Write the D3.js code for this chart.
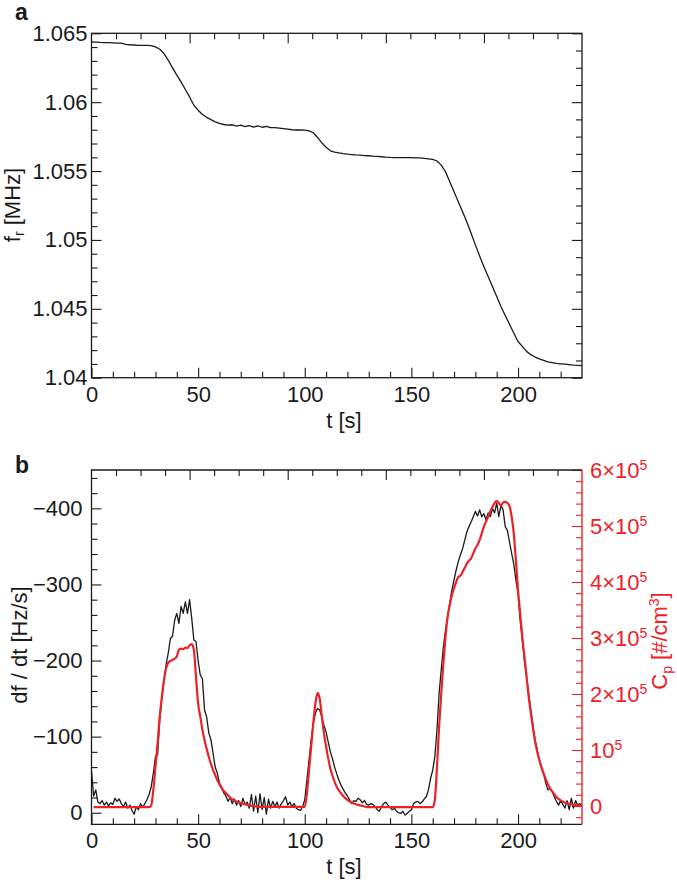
<!DOCTYPE html>
<html><head><meta charset="utf-8">
<script src="https://cdn.jsdelivr.net/npm/d3@7"></script>
<style>
body{margin:0;background:#fff;}
svg text{font-family:"Liberation Sans",Arial,Helvetica,sans-serif;}
</style></head><body>
<svg id="c" width="677" height="884"></svg>
<script>
// ---------- data ----------
// Panel a: resonance frequency (MHz), sampled every 2 s
const timeA = d3.range(0, 231, 2);
const freqA = [
1.06437,1.06436,1.06434,1.06433,1.06432,1.06430,1.06428,1.06429,1.06420,1.06417,
1.06415,1.06413,1.06412,1.06412,1.06410,1.06401,1.06384,1.06353,1.06304,1.06249,
1.06196,1.06147,1.06092,1.06038,1.05978,1.05942,1.05911,1.05890,1.05873,1.05857,
1.05846,1.05838,1.05834,1.05836,1.05826,1.05833,1.05822,1.05830,1.05819,1.05828,
1.05818,1.05824,1.05816,1.05815,1.05812,1.05808,1.05804,1.05800,1.05798,1.05799,
1.05797,1.05792,1.05778,1.05744,1.05705,1.05672,1.05647,1.05638,1.05632,1.05627,
1.05623,1.05620,1.05617,1.05615,1.05612,1.05611,1.05608,1.05606,1.05604,1.05601,
1.05599,1.05598,1.05598,1.05597,1.05597,1.05597,1.05596,1.05595,1.05592,1.05589,
1.05585,1.05573,1.05543,1.05495,1.05422,1.05350,1.05278,1.05205,1.05130,1.05049,
1.04964,1.04883,1.04806,1.04734,1.04662,1.04589,1.04517,1.04452,1.04388,1.04324,
1.04263,1.04227,1.04191,1.04167,1.04150,1.04136,1.04126,1.04115,1.04110,1.04104,
1.04101,1.04098,1.04095,1.04092,1.04090,1.04087];

// Panel b: sampled every 1 s
const timeB = d3.range(0, 231, 1);
const dfdtB = [
-55,-22,-30,-14,-12,-16,-10,-14,-9,-13,
-11,-19,-15,-18,-12,-8,-14,-6,-10,-3,
2,-8,-4,-12,-7,-12,-17,-24,-34,-52,
-74,-76,-122,-150,-174,-195,-210,-229,-232,-253,
-262,-249,-271,-262,-277,-262,-280,-255,-227,-225,
-200,-181,-176,-135,-126,-105,-96,-78,-60,-52,
-39,-34,-26,-22,-15,-20,-12,-18,-10,-16,
-8,-19,-11,-14,-6,-24,-2,-22,0,-25,
-4,-20,2,-18,-6,-15,-8,-14,-6,-12,
-16,-21,-10,-14,-8,-12,-6,-4,-3,-8,
-17,-43,-69,-96,-117,-131,-137,-135,-126,-115,
-106,-93,-80,-71,-60,-51,-43,-36,-31,-26,
-22,-17,-12,-16,-15,-19,-17,-13,-16,-11,
-10,-12,-11,-8,-4,-2,-8,-12,-14,-10,
-7,-4,-6,-2,0,1,-2,3,1,-2,
-4,-12,-14,-15,-12,-14,-18,-21,-30,-45,
-56,-74,-109,-157,-188,-218,-240,-258,-275,-293,
-306,-319,-330,-339,-347,-358,-369,-376,-382,-389,
-396,-390,-398,-389,-393,-385,-394,-389,-400,-394,
-407,-389,-404,-398,-376,-371,-356,-341,-327,-306,
-288,-253,-227,-200,-179,-157,-135,-115,-96,-83,
-69,-60,-52,-39,-30,-32,-28,-21,-15,-10,
-16,-11,-6,-16,-4,-19,-6,-16,-10,-12,
-8];
const cpB = [
null,-2000,-2000,-2000,-2000,-2000,-2000,-2000,-2000,-2000,
-2000,-2000,-2000,-2000,-2000,-2000,-2000,-2000,-2000,-2000,
-2000,-2000,-2000,-2000,-2000,-2000,-2000,-2000,1000,28600,
70000,112000,160000,195000,225000,246000,256000,259000,261000,263000,
267000,279000,281000,280000,283000,282000,287000,289000,279000,231000,
183000,160000,136000,118000,102000,88000,75000,64000,55000,46000,
39000,32000,27000,23000,19000,15000,12000,10000,8000,6500,
5000,4000,3000,2000,1000,500,0,-500,-1500,-1500,
-1500,-1500,-1500,-1500,-1500,-1500,-1500,-1500,-1500,-1500,
-1500,-1500,-1500,-1500,-1500,-1500,-1500,-1500,-1500,-1500,
-1500,22700,64000,106000,148000,183000,202000,192000,160000,130000,
106000,85000,67000,54000,43000,34000,28000,22700,18000,14000,
11000,8000,6000,4500,3000,2000,1000,0,-1000,-2000,
-2000,-2000,-2000,-2000,-2000,-2000,-2000,-2000,-2000,-2000,
-2000,-2000,-2000,-2000,-2000,-2000,-2000,-2000,-2000,-2000,
-2000,-2000,-2000,-2000,-2000,-2000,-2000,-2000,-2000,-2000,
-2000,10700,70000,142000,201000,255000,302000,338000,359000,377000,
389000,400000,409000,411000,418000,425000,433000,438000,442000,451000,
460000,466000,475000,487000,499000,508000,517000,526000,534000,541000,
545000,541000,536000,542000,543000,541000,536000,517000,487000,439000,
386000,344000,302000,267000,231000,195000,166000,139000,115000,97000,
82000,69000,58000,48000,39000,32000,26000,21000,16000,12500,
10000,8000,6000,5000,4000,3000,2000,1500,1000,500,
0];

// ticks and labels
const tTicks = [0, 50, 100, 150, 200];
const tMinor = [10,20,30,40,60,70,80,90,110,120,130,140,160,170,180,190,210,220];
const topMajor = [40, 80, 120, 160];
const topMinor = [10,20,30,50,60,70,90,100,110,130,140,150,170,180,190];
const fTicks = [1.04, 1.045, 1.05, 1.055, 1.06, 1.065];
const fTickLabels = ["1.04", "1.045", "1.05", "1.055", "1.06", "1.065"];
const fMinor = d3.range(1, 25).filter(i => i % 5 !== 0).map(i => 1.04 + i * 0.001);
const fRightMinor = d3.range(1, 20).filter(i => i % 4 !== 0).map(i => 1.04 + i * 0.00125);
const dTicks = [0, -100, -200, -300, -400];
const dTickLabels = ["0", "\u2212100", "\u2212200", "\u2212300", "\u2212400"];
const dMinor = d3.range(1, 23).filter(i => i % 5 !== 0).map(i => -20 * i);
const cTicks = [0, 1e5, 2e5, 3e5, 4e5, 5e5, 6e5];
const cTickLabels = [["0",""], ["10","5"], ["2\u00d710","5"], ["3\u00d710","5"], ["4\u00d710","5"], ["5\u00d710","5"], ["6\u00d710","5"]];
const cMinor = d3.range(-1, 30).filter(i => i % 5 !== 0).map(i => i * 20000);

// ---------- layout ----------
const RED = "#ec2229", INK = "#1a1a1a", FS = 22;
const A = {left: 91.5, right: 582, top: 33.3, bottom: 377.7};
const B = {left: 91.5, right: 582, top: 470, bottom: 824.3};
const svg = d3.select("#c");

const xA = d3.scaleLinear().domain([0, 230]).range([A.left, A.right]);
const xTopA = d3.scaleLinear().domain([0, 200]).range([A.left, A.right]);
const yA = d3.scaleLinear().domain([1.04, 1.065]).range([A.bottom, A.top]);
const xB = d3.scaleLinear().domain([0, 230]).range([B.left, B.right]);
const xTopB = d3.scaleLinear().domain([0, 200]).range([B.left, B.right]);
const yB = d3.scaleLinear().domain([15.2, -450.4]).range([B.bottom, B.top]);
const yR = d3.scaleLinear().domain([-32700, 600000]).range([B.bottom, B.top]);

function ax(gen, tr, vals, size, labels, pad, color) {
  const g = svg.append("g").attr("transform", tr);
  gen.tickValues(vals).tickSize(-size).tickSizeOuter(0).tickPadding(pad)
     .tickFormat(labels ? ((d, i) => labels[i]) : () => "");
  g.call(gen);
  g.select(".domain").remove();
  g.selectAll(".tick line").attr("stroke", color || INK).attr("stroke-width", 1.1);
  g.selectAll("text").attr("font-size", FS).attr("fill", color || INK)
   .attr("font-family", '"Liberation Sans",Arial,Helvetica,sans-serif');
  return g;
}

// ---------- panel a ----------
ax(d3.axisBottom(xA), `translate(0,${A.bottom})`, tTicks, 10, tTicks.map(String), 8.5);
ax(d3.axisBottom(xA), `translate(0,${A.bottom})`, tMinor, 6, null, 9);
ax(d3.axisTop(xTopA), `translate(0,${A.top})`, topMajor, 10, null, 3);
ax(d3.axisTop(xTopA), `translate(0,${A.top})`, topMinor, 6, null, 3);
ax(d3.axisLeft(yA), `translate(${A.left},0)`, fTicks, 10, fTickLabels, 4);
ax(d3.axisLeft(yA), `translate(${A.left},0)`, fMinor, 6, null, 4);
ax(d3.axisRight(yA), `translate(${A.right},0)`, fTicks, 10, null, 3);
ax(d3.axisRight(yA), `translate(${A.right},0)`, fRightMinor, 6, null, 3);

svg.append("rect").attr("x", A.left).attr("y", A.top)
  .attr("width", A.right - A.left).attr("height", A.bottom - A.top)
  .attr("fill", "none").attr("stroke", INK).attr("stroke-width", 1.3);

svg.append("path").datum(timeA.map((t, i) => [t, freqA[i]]))
  .attr("fill", "none").attr("stroke", INK).attr("stroke-width", 1.3)
  .attr("stroke-linejoin", "round")
  .attr("d", d3.line().x(d => xA(d[0])).y(d => yA(d[1])));

svg.append("text").attr("x", 15).attr("y", 20).attr("font-size", 23)
  .attr("font-weight", "bold").attr("fill", INK).text("a");
svg.append("text").attr("x", 344).attr("y", 428).attr("font-size", FS)
  .attr("text-anchor", "middle").attr("fill", INK).text("t [s]");
const la = svg.append("text").attr("transform", "translate(20,205) rotate(-90)")
  .attr("font-size", FS).attr("text-anchor", "middle").attr("fill", INK);
la.append("tspan").text("f");
la.append("tspan").attr("font-size", 14).attr("dy", 4).text("r");
la.append("tspan").attr("dy", -4).text(" [MHz]");

// ---------- panel b ----------
ax(d3.axisBottom(xB), `translate(0,${B.bottom})`, tTicks, 10, tTicks.map(String), 8.5);
ax(d3.axisBottom(xB), `translate(0,${B.bottom})`, tMinor, 6, null, 9);
ax(d3.axisTop(xTopB), `translate(0,${B.top})`, topMajor, 10, null, 3);
ax(d3.axisTop(xTopB), `translate(0,${B.top})`, topMinor, 6, null, 3);
ax(d3.axisLeft(yB), `translate(${B.left},0)`, dTicks, 10, dTickLabels, 9);
ax(d3.axisLeft(yB), `translate(${B.left},0)`, dMinor, 6, null, 9);
ax(d3.axisRight(yR), `translate(${B.right},0)`, cTicks, 10, null, 3, RED);
ax(d3.axisRight(yR), `translate(${B.right},0)`, cMinor, 6, null, 3, RED);

// red tick labels with superscripts
cTicks.forEach((v, i) => {
  const t = svg.append("text").attr("x", 590).attr("y", yR(v)).attr("dy", "0.36em")
    .attr("font-size", FS).attr("fill", RED);
  t.append("tspan").text(cTickLabels[i][0]);
  if (cTickLabels[i][1]) t.append("tspan").attr("font-size", 14).attr("dy", -8).text(cTickLabels[i][1]);
});

svg.append("path").attr("d", `M${B.right},${B.bottom}H${B.left}V${B.top}H${B.right}`)
  .attr("fill", "none").attr("stroke", INK).attr("stroke-width", 1.3);
svg.append("line").attr("x1", B.right).attr("x2", B.right).attr("y1", B.top).attr("y2", B.bottom)
  .attr("stroke", RED).attr("stroke-width", 1.4);

svg.append("path").datum(timeB.map((t, i) => [t, dfdtB[i]]))
  .attr("fill", "none").attr("stroke", INK).attr("stroke-width", 1.3)
  .attr("stroke-linejoin", "round")
  .attr("d", d3.line().x(d => xB(d[0])).y(d => yB(d[1])));
svg.append("path").datum(timeB.map((t, i) => [t, cpB[i]]))
  .attr("fill", "none").attr("stroke", RED).attr("stroke-width", 2.2)
  .attr("stroke-linejoin", "round")
  .attr("d", d3.line().defined(d => d[1] !== null).curve(d3.curveMonotoneX)
    .x(d => xB(d[0])).y(d => yR(d[1])));

svg.append("text").attr("x", 15).attr("y", 473).attr("font-size", 23)
  .attr("font-weight", "bold").attr("fill", INK).text("b");
svg.append("text").attr("x", 344).attr("y", 874).attr("font-size", FS)
  .attr("text-anchor", "middle").attr("fill", INK).text("t [s]");
svg.append("text").attr("transform", "translate(27,645) rotate(-90)")
  .attr("font-size", FS).attr("text-anchor", "middle").attr("fill", INK).text("df / dt [Hz/s]");
const lr = svg.append("text").attr("transform", "translate(667,641) rotate(-90)")
  .attr("font-size", FS).attr("text-anchor", "middle").attr("fill", RED);
lr.append("tspan").text("C");
lr.append("tspan").attr("font-size", 14).attr("dy", 5).text("p");
lr.append("tspan").attr("dy", -5).text(" [#/cm");
lr.append("tspan").attr("font-size", 14).attr("dy", -8).text("3");
lr.append("tspan").attr("dy", 8).text("]");
</script>
</body></html>
